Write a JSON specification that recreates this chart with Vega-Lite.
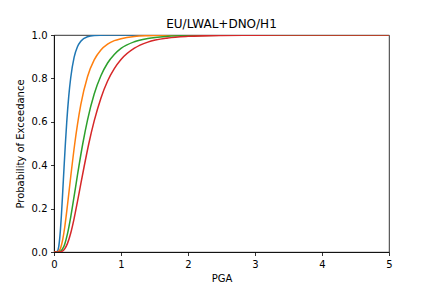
{
  "$schema": "https://vega.github.io/schema/vega-lite/v6.json",
  "width": 335,
  "height": 217,
  "autosize": {"type": "none"},
  "padding": {"left": 54, "top": 35, "right": 43, "bottom": 36},
  "background": "white",
  "title": {
    "text": "EU/LWAL+DNO/H1",
    "font": "DejaVu Sans",
    "fontSize": 12,
    "fontWeight": "normal",
    "color": "black",
    "offset": -1
  },
  "data": {
    "values": [
      {"state": "DS1", "pga": 0, "poe": 0},
      {"state": "DS1", "pga": 0.03, "poe": 0.0001},
      {"state": "DS1", "pga": 0.05, "poe": 0.0033},
      {"state": "DS1", "pga": 0.07, "poe": 0.024},
      {"state": "DS1", "pga": 0.09, "poe": 0.079},
      {"state": "DS1", "pga": 0.11, "poe": 0.167},
      {"state": "DS1", "pga": 0.13, "poe": 0.276},
      {"state": "DS1", "pga": 0.15, "poe": 0.39},
      {"state": "DS1", "pga": 0.17, "poe": 0.5},
      {"state": "DS1", "pga": 0.19, "poe": 0.598},
      {"state": "DS1", "pga": 0.22, "poe": 0.717},
      {"state": "DS1", "pga": 0.25, "poe": 0.804},
      {"state": "DS1", "pga": 0.3, "poe": 0.897},
      {"state": "DS1", "pga": 0.35, "poe": 0.946},
      {"state": "DS1", "pga": 0.4, "poe": 0.971},
      {"state": "DS1", "pga": 0.5, "poe": 0.9918},
      {"state": "DS1", "pga": 0.6, "poe": 0.9974},
      {"state": "DS1", "pga": 0.8, "poe": 0.9997},
      {"state": "DS1", "pga": 1.0, "poe": 1.0},
      {"state": "DS1", "pga": 5.0, "poe": 1.0},

      {"state": "DS2", "pga": 0, "poe": 0},
      {"state": "DS2", "pga": 0.05, "poe": 0.0005},
      {"state": "DS2", "pga": 0.08, "poe": 0.0069},
      {"state": "DS2", "pga": 0.1, "poe": 0.0197},
      {"state": "DS2", "pga": 0.13, "poe": 0.057},
      {"state": "DS2", "pga": 0.16, "poe": 0.114},
      {"state": "DS2", "pga": 0.2, "poe": 0.213},
      {"state": "DS2", "pga": 0.25, "poe": 0.348},
      {"state": "DS2", "pga": 0.31, "poe": 0.5},
      {"state": "DS2", "pga": 0.35, "poe": 0.587},
      {"state": "DS2", "pga": 0.4, "poe": 0.679},
      {"state": "DS2", "pga": 0.5, "poe": 0.808},
      {"state": "DS2", "pga": 0.6, "poe": 0.885},
      {"state": "DS2", "pga": 0.7, "poe": 0.931},
      {"state": "DS2", "pga": 0.8, "poe": 0.958},
      {"state": "DS2", "pga": 0.9, "poe": 0.974},
      {"state": "DS2", "pga": 1.0, "poe": 0.983},
      {"state": "DS2", "pga": 1.2, "poe": 0.9931},
      {"state": "DS2", "pga": 1.4, "poe": 0.9969},
      {"state": "DS2", "pga": 1.7, "poe": 0.999},
      {"state": "DS2", "pga": 2.0, "poe": 0.9997},
      {"state": "DS2", "pga": 2.5, "poe": 1.0},
      {"state": "DS2", "pga": 5.0, "poe": 1.0},

      {"state": "DS3", "pga": 0, "poe": 0},
      {"state": "DS3", "pga": 0.05, "poe": 0.0001},
      {"state": "DS3", "pga": 0.08, "poe": 0.0011},
      {"state": "DS3", "pga": 0.1, "poe": 0.004},
      {"state": "DS3", "pga": 0.13, "poe": 0.015},
      {"state": "DS3", "pga": 0.16, "poe": 0.036},
      {"state": "DS3", "pga": 0.2, "poe": 0.082},
      {"state": "DS3", "pga": 0.25, "poe": 0.162},
      {"state": "DS3", "pga": 0.3, "poe": 0.256},
      {"state": "DS3", "pga": 0.35, "poe": 0.354},
      {"state": "DS3", "pga": 0.43, "poe": 0.5},
      {"state": "DS3", "pga": 0.5, "poe": 0.608},
      {"state": "DS3", "pga": 0.6, "poe": 0.728},
      {"state": "DS3", "pga": 0.7, "poe": 0.812},
      {"state": "DS3", "pga": 0.8, "poe": 0.871},
      {"state": "DS3", "pga": 0.9, "poe": 0.91},
      {"state": "DS3", "pga": 1.0, "poe": 0.938},
      {"state": "DS3", "pga": 1.2, "poe": 0.969},
      {"state": "DS3", "pga": 1.4, "poe": 0.984},
      {"state": "DS3", "pga": 1.7, "poe": 0.9938},
      {"state": "DS3", "pga": 2.0, "poe": 0.9974},
      {"state": "DS3", "pga": 2.5, "poe": 0.9993},
      {"state": "DS3", "pga": 3.0, "poe": 0.9998},
      {"state": "DS3", "pga": 4.0, "poe": 1.0},
      {"state": "DS3", "pga": 5.0, "poe": 1.0},

      {"state": "DS4", "pga": 0, "poe": 0},
      {"state": "DS4", "pga": 0.08, "poe": 0.0003},
      {"state": "DS4", "pga": 0.1, "poe": 0.0011},
      {"state": "DS4", "pga": 0.13, "poe": 0.0051},
      {"state": "DS4", "pga": 0.16, "poe": 0.0146},
      {"state": "DS4", "pga": 0.2, "poe": 0.0385},
      {"state": "DS4", "pga": 0.25, "poe": 0.0876},
      {"state": "DS4", "pga": 0.3, "poe": 0.154},
      {"state": "DS4", "pga": 0.35, "poe": 0.232},
      {"state": "DS4", "pga": 0.4, "poe": 0.314},
      {"state": "DS4", "pga": 0.45, "poe": 0.394},
      {"state": "DS4", "pga": 0.52, "poe": 0.5},
      {"state": "DS4", "pga": 0.6, "poe": 0.604},
      {"state": "DS4", "pga": 0.7, "poe": 0.709},
      {"state": "DS4", "pga": 0.8, "poe": 0.788},
      {"state": "DS4", "pga": 0.9, "poe": 0.845},
      {"state": "DS4", "pga": 1.0, "poe": 0.887},
      {"state": "DS4", "pga": 1.2, "poe": 0.939},
      {"state": "DS4", "pga": 1.4, "poe": 0.967},
      {"state": "DS4", "pga": 1.7, "poe": 0.986},
      {"state": "DS4", "pga": 2.0, "poe": 0.9937},
      {"state": "DS4", "pga": 2.5, "poe": 0.9982},
      {"state": "DS4", "pga": 3.0, "poe": 0.9994},
      {"state": "DS4", "pga": 4.0, "poe": 0.9999},
      {"state": "DS4", "pga": 5.0, "poe": 1.0}
    ]
  },
  "mark": {"type": "line", "strokeWidth": 1.5, "interpolate": "monotone", "clip": true},
  "encoding": {
    "x": {
      "field": "pga",
      "type": "quantitative",
      "scale": {"domain": [0, 5], "nice": false, "zero": false},
      "axis": {"title": "PGA", "values": [0, 1, 2, 3, 4, 5], "format": "d", "titlePadding": 4}
    },
    "y": {
      "field": "poe",
      "type": "quantitative",
      "scale": {"domain": [0, 1], "nice": false},
      "axis": {"title": "Probability of Exceedance", "values": [0, 0.2, 0.4, 0.6, 0.8, 1.0], "format": ".1f", "titlePadding": 6}
    },
    "color": {
      "field": "state",
      "type": "nominal",
      "scale": {"domain": ["DS1", "DS2", "DS3", "DS4"], "range": ["#1f77b4", "#ff7f0e", "#2ca02c", "#d62728"]},
      "legend": null
    }
  },
  "config": {
    "view": {"stroke": "black", "strokeWidth": 0.8},
    "axis": {
      "grid": false,
      "labelFont": "DejaVu Sans",
      "labelFontSize": 10,
      "labelColor": "black",
      "labelFlush": false,
      "labelPadding": 3.5,
      "titleFont": "DejaVu Sans",
      "titleFontSize": 10,
      "titleFontWeight": "normal",
      "titleColor": "black",
      "tickColor": "black",
      "tickSize": 3.5,
      "tickWidth": 0.8,
      "domainColor": "black",
      "domainWidth": 0.8
    }
  }
}
